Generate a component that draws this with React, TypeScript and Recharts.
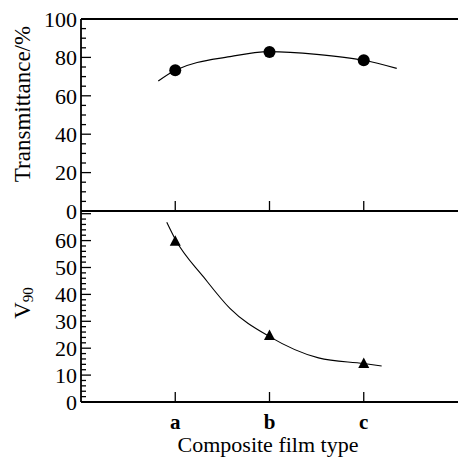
import { ComposedChart, Line, Scatter, XAxis, YAxis, ReferenceLine, Label } from "recharts"

const categories = ["a", "b", "c"]
const categoryPos = [1, 2, 3]

const transmittance = [73.3, 82.8, 78.5]
const transCurveX = [0.82, 1, 1.58, 2, 2.5, 3, 3.35]
const transCurveY = [67.7, 73.3, 80.4, 83, 81.6, 78.5, 74.3]

const v90 = [59.8, 24.7, 14.3]
const v90CurveX = [0.91, 1, 1.3, 1.58, 2, 2.52, 3, 3.19]
const v90CurveY = [66.8, 60.5, 46.5, 34.8, 24.3, 16.4, 14.3, 13.4]

const topTicks = [0, 5, 10, 15, 20, 25, 30, 35, 40, 45, 50, 55, 60, 65, 70, 75, 80, 85, 90, 95, 100]
const bottomTicks = [0, 2, 4, 6, 8, 10, 12, 14, 16, 18, 20, 22, 24, 26, 28, 30, 32, 34, 36, 38, 40, 42, 44, 46, 48, 50, 52, 54, 56, 58, 60, 62, 64, 66, 68, 70]
const bottomLabelMax = 60

const font = "Liberation Serif"

const transPoints = categoryPos.map((x, i) => ({ x, y: transmittance[i] }))
const transCurve = transCurveX.map((x, i) => ({ x, y: transCurveY[i] }))
const v90Points = categoryPos.map((x, i) => ({ x, y: v90[i] }))
const v90Curve = v90CurveX.map((x, i) => ({ x, y: v90CurveY[i] }))

function YTick(props: any) {
  const { x, y, payload, major, maxLabel } = props
  const isMajor = payload.value % major === 0
  return (
    <g>
      <line x1={x} x2={x + (isMajor ? 10 : 5)} y1={y} y2={y} stroke="#000" strokeWidth={1.3} />
      {isMajor && payload.value <= maxLabel && (
        <text x={x - 4} y={y} dy="0.35em" textAnchor="end" style={{ fontFamily: font, fontSize: 22 }} fill="#000">
          {payload.value}
        </text>
      )}
    </g>
  )
}

function XTick(props: any) {
  const { x, y, payload, showLabel } = props
  const name = categories[categoryPos.indexOf(payload.value)]
  return (
    <g>
      <line x1={x} x2={x} y1={y} y2={y - 10} stroke="#000" strokeWidth={1.3} />
      {showLabel && (
        <text x={x} y={y + 27} textAnchor="middle" style={{ fontFamily: font, fontSize: 21, fontWeight: "bold" }} fill="#000">
          {name}
        </text>
      )}
    </g>
  )
}

function Circle(props: any) {
  const { cx, cy } = props
  return <circle cx={cx} cy={cy} r={6} fill="#000" />
}

function Triangle(props: any) {
  const { cx, cy } = props
  return <polygon points={`${cx},${cy - 6} ${cx - 5.5},${cy + 4.5} ${cx + 5.5},${cy + 4.5}`} fill="#000" />
}

export default function App() {
  return (
    <div style={{ position: "absolute", left: 0, top: 0, width: 458, height: 457, background: "#fff" }}>
      <style>{"svg.recharts-surface { overflow: visible; }"}</style>
      <div style={{ position: "absolute", left: 0, top: 211 }}>
        <ComposedChart width={458} height={246} margin={{ top: 0, right: 0, bottom: 0, left: 0 }}>
          <XAxis
            type="number"
            dataKey="x"
            domain={[0, 4]}
            ticks={categoryPos}
            height={55}
            tickSize={0}
            tickMargin={0}
            tickLine={false}
            axisLine={{ stroke: "#000", strokeWidth: 1.8 }}
            tick={(p: any) => <XTick {...p} showLabel={true} />}
          >
            <Label
              content={() => (
                <text x={268} y={241} textAnchor="middle" style={{ fontFamily: font, fontSize: 22 }} fill="#000">
                  Composite film type
                </text>
              )}
            />
          </XAxis>
          <YAxis
            type="number"
            domain={[0, 71]}
            ticks={bottomTicks}
            interval={0}
            width={81}
            tickSize={0}
            tickMargin={0}
            tickLine={false}
            axisLine={{ stroke: "#000", strokeWidth: 1.8 }}
            tick={(p: any) => <YTick {...p} major={10} maxLabel={bottomLabelMax} />}
          >
            <Label
              content={() => (
                <text
                  x={22}
                  y={92}
                  transform="rotate(-90 22 92)"
                  textAnchor="middle"
                  dominantBaseline="central"
                  style={{ fontFamily: font, fontSize: 23 }}
                  fill="#000"
                >
                  V
                  <tspan style={{ fontSize: 15 }} dy={6}>90</tspan>
                </text>
              )}
            />
          </YAxis>
          <Line
            data={v90Curve}
            dataKey="y"
            type="monotone"
            stroke="#000"
            strokeWidth={1.1}
            dot={false}
            activeDot={false}
            isAnimationActive={false}
          />
          <Scatter data={v90Points} dataKey="y" shape={<Triangle />} isAnimationActive={false} />
        </ComposedChart>
      </div>
      <div style={{ position: "absolute", left: 0, top: 0 }}>
        <ComposedChart width={458} height={212} margin={{ top: 19, right: 0, bottom: 0, left: 0 }}>
          <XAxis
            type="number"
            dataKey="x"
            domain={[0, 4]}
            ticks={categoryPos}
            height={1}
            tickSize={0}
            tickMargin={0}
            tickLine={false}
            axisLine={{ stroke: "#000", strokeWidth: 1.8 }}
            tick={(p: any) => <XTick {...p} showLabel={false} />}
          />
          <YAxis
            type="number"
            domain={[0, 100]}
            ticks={topTicks}
            interval={0}
            width={81}
            tickSize={0}
            tickMargin={0}
            tickLine={false}
            axisLine={{ stroke: "#000", strokeWidth: 1.8 }}
            tick={(p: any) => <YTick {...p} major={20} maxLabel={100} />}
          >
            <Label
              content={() => (
                <text
                  x={22}
                  y={104}
                  transform="rotate(-90 22 104)"
                  textAnchor="middle"
                  dominantBaseline="central"
                  style={{ fontFamily: font, fontSize: 23 }}
                  fill="#000"
                >
                  Transmittance/%
                </text>
              )}
            />
          </YAxis>
          <ReferenceLine y={100} stroke="#000" strokeWidth={1.8} />
          <Line
            data={transCurve}
            dataKey="y"
            type="monotone"
            stroke="#000"
            strokeWidth={1.2}
            dot={false}
            activeDot={false}
            isAnimationActive={false}
          />
          <Scatter data={transPoints} dataKey="y" shape={<Circle />} isAnimationActive={false} />
        </ComposedChart>
      </div>
    </div>
  )
}
